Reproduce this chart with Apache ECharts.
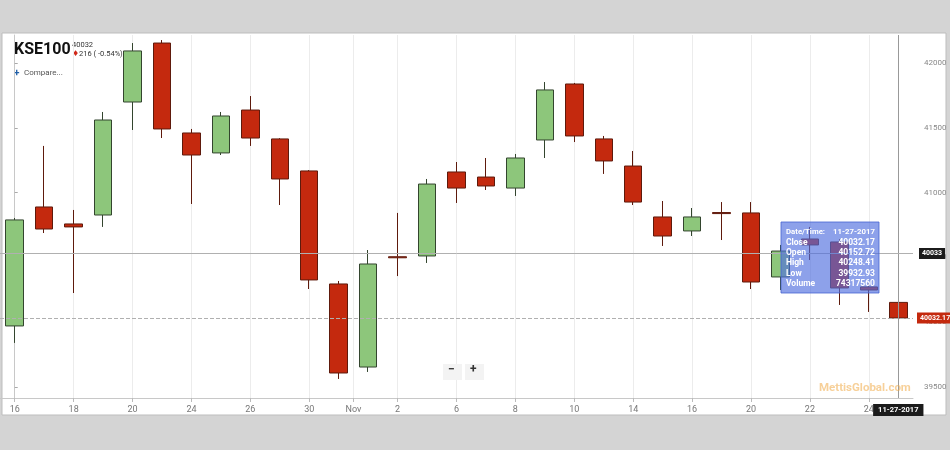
<!DOCTYPE html>
<html>
<head>
<meta charset="utf-8">
<title>KSE100</title>
<script src="https://cdn.jsdelivr.net/npm/echarts@6/dist/echarts.min.js"></script>
<style>
html, body { margin: 0; padding: 0; background: #d4d4d4; }
#chart { width: 950px; height: 450px; }
</style>
</head>
<body>
<div id="chart"></div>
<script>
// trading days (Oct 16 - Nov 27 2017)
var dates = ['10-16-2017','10-17-2017','10-18-2017','10-19-2017','10-20-2017','10-23-2017','10-24-2017','10-25-2017','10-26-2017','10-27-2017','10-30-2017','10-31-2017',
    '11-01-2017','11-02-2017','11-03-2017','11-06-2017','11-07-2017','11-08-2017','11-09-2017','11-10-2017','11-13-2017','11-14-2017','11-15-2017','11-16-2017','11-17-2017',
    '11-20-2017','11-21-2017','11-22-2017','11-23-2017','11-24-2017','11-27-2017'];
var opens  = [39971,40889,40758,40827,41699,42154,41460,41306,41637,41414,41167,40295,39654,40505,40511,41159,41120,41035,41406,41838,41414,41205,40812,40704,40846,40843,40349,40642,40619,40272,40152.72];
var closes = [40789,40719,40735,41560,42093,41491,41290,41591,41421,41105,40326,39608,40449,40497,41066,41035,41051,41267,41792,41437,41244,40927,40665,40812,40838,40310,40549,40596,40264,40248.41,40032.17];
var lows   = [39840,40688,40225,40735,41483,41421,40912,41290,41360,40904,40256,39562,39616,40356,40457,40920,41020,40974,41267,41390,41144,40904,40588,40665,40634,40256,40248,40480,40133,40079,39932.93];
var highs  = [40804,41360,40866,41622,42154,42177,41491,41622,41745,41420,41174,40318,40557,40843,41105,41236,41267,41298,41853,41846,41437,41321,40935,40881,40927,40927,40596,40735,40640,40302,40248.41];
var lastVolume = 74317560;

// x tick labels (positions in trading-day index, Nov sits on the month boundary)
var tickPos    = [0,2,4,6,8,10,11.5,13,15,17,19,21,23,25,27,29];
var tickLabels = ['16','18','20','24','26','30','Nov','2','6','8','10','14','16','20','22','24'];

// crosshair where the mouse was
var crossValue = 40530;
var crossLabel = '40033';

var ohlc = dates.map(function (d, i) { return [opens[i], closes[i], lows[i], highs[i]]; });
var n = dates.length - 1;
var lastClose = closes[n];
var change = closes[n] - closes[n - 1];
var pct = change / closes[n - 1] * 100;

function fmt(v) { return v.toFixed(2); }

var tipRows = [
    ['Date/Time:', dates[n]],
    ['Close', fmt(closes[n])],
    ['Open', fmt(opens[n])],
    ['High', fmt(highs[n])],
    ['Low', fmt(lows[n])],
    ['Volume', String(lastVolume)]
];
var tipTexts = [];
tipRows.forEach(function (r, i) {
    var y = 232 + i * 10.4;
    var font = i === 0 ? 'bold 7.8px Roboto' : 'bold 8.5px Roboto';
    tipTexts.push({ type: 'text', z: 61, x: 786, y: y, style: { text: r[0], fill: '#fff', font: font, textAlign: 'left', textVerticalAlign: 'middle' } });
    tipTexts.push({ type: 'text', z: 61, x: 875, y: y, style: { text: r[1], fill: '#fff', font: font, textAlign: 'right', textVerticalAlign: 'middle' } });
});

var myChart = echarts.init(document.getElementById('chart'));
var option = {
    backgroundColor: '#d4d4d4',
    animation: false,
    textStyle: { fontFamily: 'Roboto' },
    grid: { left: -4, right: 37, top: 35, bottom: 52 },
    xAxis: [{
        type: 'category',
        position: 'top',
        data: dates,
        boundaryGap: true,
        axisLine: { show: false },
        axisTick: { show: false },
        axisLabel: { show: false },
        splitLine: { show: false }
    }, {
        type: 'value',
        position: 'bottom',
        min: -0.5,
        max: n + 0.5,
        axisLine: { show: true, lineStyle: { color: '#c8c8c8' } },
        axisTick: { show: true, customValues: tickPos, length: 4, lineStyle: { color: '#bbb' } },
        axisLabel: {
            customValues: tickPos,
            color: '#777',
            fontSize: 9,
            margin: 7,
            formatter: function (v) {
                var k = tickPos.indexOf(v);
                return k < 0 ? '' : tickLabels[k];
            }
        },
        splitLine: { show: true, lineStyle: { color: '#ececec' } }
    }],
    yAxis: {
        type: 'value',
        position: 'right',
        offset: 7,
        min: 39415,
        max: 42216,
        splitNumber: 5,
        axisLine: { show: true, lineStyle: { color: '#c8c8c8' } },
        axisTick: { show: true, length: 3, lineStyle: { color: '#aaa' } },
        axisLabel: {
            color: '#888',
            fontSize: 8,
            margin: 4,
            showMinLabel: false,
            showMaxLabel: false,
            formatter: function (v) { return String(v); }
        },
        splitLine: { show: false }
    },
    series: [{
        type: 'candlestick',
        xAxisIndex: 0,
        barWidth: 18,
        data: ohlc,
        itemStyle: {
            color: '#8dc67b',
            color0: '#c4290e',
            borderColor: '#33452e',
            borderColor0: '#5e1a0c',
            borderWidth: 1
        },
        markLine: {
            symbol: 'none',
            silent: true,
            animation: false,
            data: [{
                xAxis: n,
                lineStyle: { color: '#999', type: 'solid', width: 1 },
                label: { position: 'start', distance: 6, formatter: dates[n], backgroundColor: '#1b1b1b', color: '#fff', fontSize: 7.5, fontWeight: 'bold', padding: [2, 5] }
            }, {
                yAxis: crossValue,
                lineStyle: { color: '#b0b0b0', type: 'solid', width: 1 },
                label: { position: 'end', distance: 6, formatter: crossLabel, backgroundColor: '#1b1b1b', color: '#fff', fontSize: 7, fontWeight: 'bold', padding: [2, 3] }
            }, {
                yAxis: lastClose,
                lineStyle: { color: '#b0b0b0', type: 'dashed', width: 1 },
                label: { position: 'end', distance: 4, formatter: fmt(lastClose), backgroundColor: '#c4290e', color: '#fff', fontSize: 7, fontWeight: 'bold', padding: [2, 3] }
            }]
        }
    }],
    graphic: [
        { type: 'rect', z: -10, shape: { x: 2, y: 33, width: 944, height: 382 }, style: { fill: '#fff', stroke: '#bdbdbd', lineWidth: 1 } },
        { type: 'text', left: 14, top: 42, style: { text: 'KSE100', fill: '#111', font: 'bold 16px Roboto' } },
        { type: 'text', left: 72, top: 41, style: { text: String(Math.round(lastClose)), fill: '#333', font: '7.5px Roboto' } },
        { type: 'text', left: 72, top: 50, style: { text: '\u2666', fill: '#d0281a', font: '8px "DejaVu Sans"' } },
        { type: 'text', left: 79, top: 50, style: { text: Math.round(Math.abs(change)) + ' ( ' + pct.toFixed(2) + '%)', fill: '#333', font: '7.5px Roboto' } },
        { type: 'text', left: 14, top: 68, style: { text: '+', fill: '#1f5fa8', font: 'bold 10px Roboto' } },
        { type: 'text', left: 24, top: 69, style: { text: 'Compare...', fill: '#555', font: '8px Roboto' } },
        { type: 'rect', z: 50, shape: { x: 443, y: 364, width: 19, height: 16 }, style: { fill: '#f3f3f3' } },
        { type: 'rect', z: 50, shape: { x: 465, y: 364, width: 19, height: 16 }, style: { fill: '#f3f3f3' } },
        { type: 'text', z: 51, left: 448, top: 364, style: { text: '\u2212', fill: '#333', font: 'bold 12px Roboto' } },
        { type: 'text', z: 51, left: 470, top: 364, style: { text: '+', fill: '#333', font: 'bold 12px Roboto' } },
        { type: 'text', z: 50, left: 819, top: 382, style: { text: 'MettisGlobal.com', fill: 'rgba(240,170,70,0.55)', font: 'bold 11.5px Roboto' } },
        { type: 'rect', z: 60, shape: { x: 781, y: 222, width: 98, height: 71 }, style: { fill: 'rgba(80,110,222,0.65)', stroke: 'rgba(70,100,210,0.8)' } }
    ].concat(tipTexts)
};
myChart.setOption(option);
</script>
</body>
</html>
